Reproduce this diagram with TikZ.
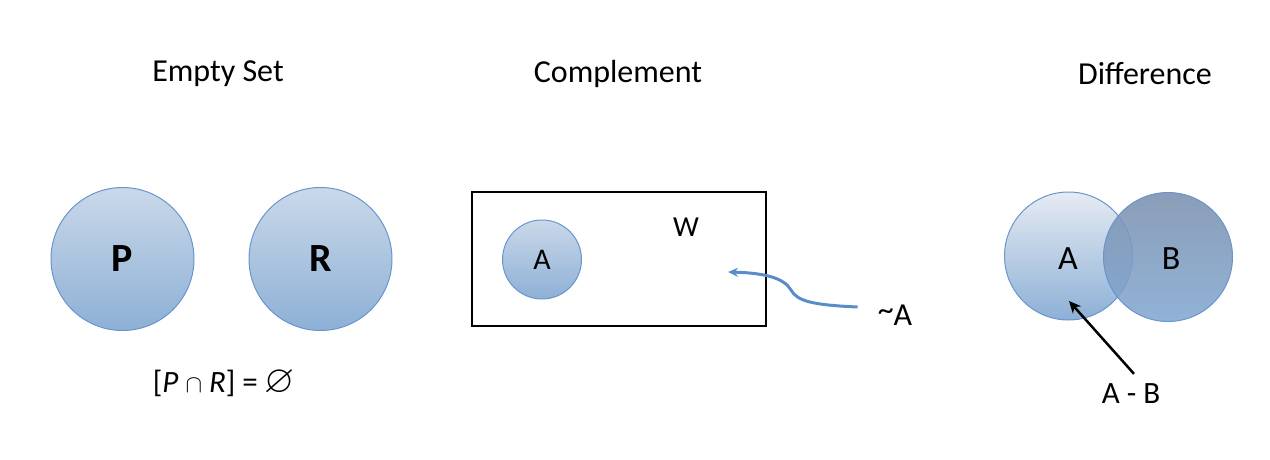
\documentclass[tikz,border=0pt]{standalone}
\usepackage{fontspec}
\usepackage{amssymb}
\setmainfont{Carlito}
\usetikzlibrary{arrows.meta}
\definecolor{edgeblue}{HTML}{6A95CC}
\definecolor{topblue}{HTML}{CAD8E9}
\definecolor{botblue}{HTML}{8DB0D6}
\definecolor{toplight}{HTML}{E6EBF2}
\definecolor{topdark}{HTML}{7A90AE}
\definecolor{botdark}{HTML}{82A8D1}
\definecolor{arrowblue}{HTML}{5A8DC8}
\tikzset{
  title/.style={font=\fontsize{32}{36}\selectfont, inner sep=0pt},
  lbl/.style={font=\fontsize{31}{34}\selectfont, inner sep=0pt},
  setcirc/.style={circle, inner sep=0pt, draw=edgeblue, line width=1pt,
     top color=topblue, bottom color=botblue},
}
\begin{document}
\begin{tikzpicture}[x=1pt,y=-1pt]
\useasboundingbox (0,0) rectangle (1270,460);
% titles
\node[title] (t1) at (218,74) {Empty Set};
\node[title] (t2) at (618,74) {Complement};
\node[title] (t3) at (1145,74) {Difference};
% empty set
\node[setcirc, minimum size=143pt, font=\fontsize{40}{44}\selectfont\bfseries] (P) at (122.5,259) {P};
\node[setcirc, minimum size=143pt, font=\fontsize{40}{44}\selectfont\bfseries] (R) at (320.5,259) {R};
\node[lbl] (f) at (224,383) {[\textit{P} $\cap$ \textit{R}] = \scalebox{1.25}{$\varnothing$}};
% complement
\node[draw=black, line width=1.3pt, minimum width=294pt, minimum height=134pt, inner sep=0pt] (W) at (619,259) {};
\node[setcirc, minimum size=79pt, font=\fontsize{30}{34}\selectfont] (A1) at (542,259.5) {A};
\node[lbl, font=\fontsize{29}{34}\selectfont] (Wl) at (686,227) {W};
\node[lbl, font=\fontsize{32}{36}\selectfont] (nA) at (895,315) {\raisebox{0.3ex}{\char`\~}A};
\coordinate (tipA) at (728,272);
\draw[arrowblue, line width=3pt, -{Stealth[length=10pt,width=9pt]}]
  (nA.west) ++(-20,-8) coordinate (sA)
  (sA) .. controls (812,305) and (797,301) .. (791,290)
  .. controls (784,278) and (765,273) .. (tipA);
% difference
\node[circle, inner sep=0pt, minimum size=128pt, draw=edgeblue, line width=1pt,
  top color=toplight, bottom color=botblue] (DA) at (1068.5,256) {};
\node[circle, inner sep=0pt, minimum size=129pt, draw=edgeblue, line width=1pt,
  top color=topdark, bottom color=botdark, fill opacity=0.88] (DB) at (1168,257) {};
\node[lbl, font=\fontsize{34}{38}\selectfont] (Al) at (1068,259) {A};
\node[lbl, font=\fontsize{34}{38}\selectfont] (Bl) at (1171,259) {B};
\node[lbl] (AB) at (1131,394) {A - B};
\coordinate (tipD) at (1069,301);
\draw[black, line width=2.5pt, -{Stealth[length=12pt,width=11pt]}] (AB.north) ++(3,-10) -- (tipD);
\end{tikzpicture}
\end{document}
